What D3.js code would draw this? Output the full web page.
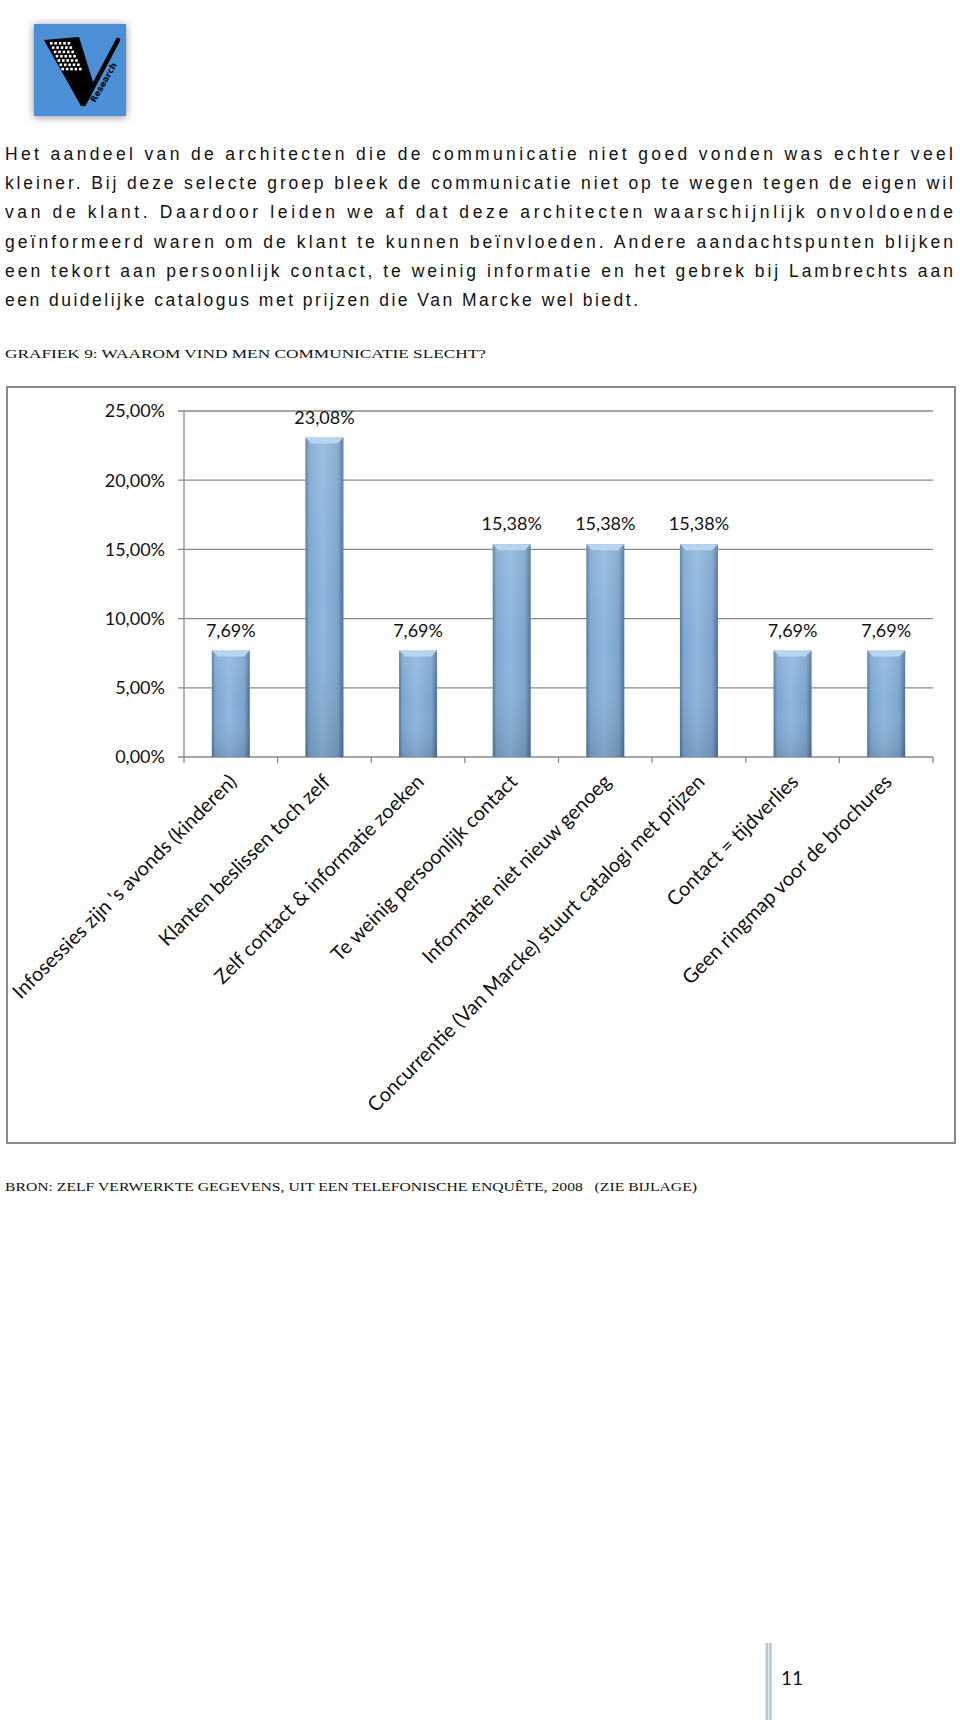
<!DOCTYPE html>
<html>
<head>
<meta charset="utf-8">
<script src="https://cdn.jsdelivr.net/npm/d3@7"></script>
<style>
  html, body { margin: 0; padding: 0; background: #fff; }
  svg { display: block; }
</style>
</head>
<body>
<svg id="page" width="960" height="1720"></svg>
<script>
// ---------- data ----------
const categories = [
  "Infosessies zijn 's avonds (kinderen)",
  "Klanten beslissen toch zelf",
  "Zelf contact & informatie zoeken",
  "Te weinig persoonlijk contact",
  "Informatie niet nieuw genoeg",
  "Concurrentie (Van Marcke) stuurt catalogi met prijzen",
  "Contact = tijdverlies",
  "Geen ringmap voor de brochures"
];
const values = [7.69, 23.08, 7.69, 15.38, 15.38, 15.38, 7.69, 7.69];
const yTicks = [0, 5, 10, 15, 20, 25];
const paragraphLines = [
  "Het aandeel van de architecten die de communicatie niet goed vonden was echter veel",
  "kleiner. Bij deze selecte groep bleek de communicatie niet op te wegen tegen de eigen wil",
  "van de klant. Daardoor leiden we af dat deze architecten waarschijnlijk onvoldoende",
  "geïnformeerd waren om de klant te kunnen beïnvloeden. Andere aandachtspunten blijken",
  "een tekort aan persoonlijk contact, te weinig informatie en het gebrek bij Lambrechts aan",
  "een duidelijke catalogus met prijzen die Van Marcke wel biedt."
];
const captionText = "GRAFIEK 9: WAAROM VIND MEN COMMUNICATIE SLECHT?";
const sourceText = "BRON: ZELF VERWERKTE GEGEVENS, UIT EEN TELEFONISCHE ENQUÊTE, 2008   (ZIE BIJLAGE)";
const pageNumber = "11";

const fmt = v => v.toFixed(2).replace(".", ",") + "%";

const svg = d3.select("#page");
const defs = svg.append("defs");

// ---------- filters / gradients ----------
const sh = defs.append("filter").attr("id", "logoShadow")
  .attr("x", "-30%").attr("y", "-30%").attr("width", "160%").attr("height", "160%");
sh.append("feDropShadow").attr("dx", 0).attr("dy", 1).attr("stdDeviation", 4)
  .attr("flood-color", "#000").attr("flood-opacity", 0.45);

const barGrad = defs.append("linearGradient").attr("id", "barGrad")
  .attr("x1", "0").attr("x2", "1").attr("y1", "0").attr("y2", "0");
[[0, "#52779e"], [0.1, "#7ca6d0"], [0.45, "#8db7de"], [0.85, "#7ba3cb"], [1, "#4b6f95"]]
  .forEach(([o, c]) => barGrad.append("stop").attr("offset", o).attr("stop-color", c));
const barShade = defs.append("linearGradient").attr("id", "barShade")
  .attr("x1", "0").attr("x2", "0").attr("y1", "0").attr("y2", "1");
[[0, "#ffffff", 0.12], [0.5, "#ffffff", 0], [1, "#000000", 0.12]]
  .forEach(([o, c, a]) => barShade.append("stop").attr("offset", o).attr("stop-color", c).attr("stop-opacity", a));

// ---------- logo ----------
const logo = svg.append("g");
logo.append("rect").attr("x", 34).attr("y", 24).attr("width", 92).attr("height", 92)
  .attr("fill", "#4b90d6").attr("filter", "url(#logoShadow)");
logo.append("path").attr("d", "M44,40 L79,37 L93,82 L85,106 L81,106 Z").attr("fill", "#000");
logo.append("line").attr("x1", 84).attr("y1", 104).attr("x2", 118).attr("y2", 40)
  .attr("stroke", "#000").attr("stroke-width", 4.5).attr("stroke-linecap", "round");
for (let r = 0; r < 7; r++) {
  for (let c = 0; c < 5; c++) {
    logo.append("rect").attr("x", 50 + c * 4.4 + r * 1.9).attr("y", 42 + r * 4.3)
      .attr("width", 2.6).attr("height", 2.6).attr("fill", "#fff");
  }
}
logo.append("text").attr("transform", "translate(95,103) rotate(-60)")
  .attr("font-family", "DejaVu Sans").attr("font-weight", "bold").attr("font-size", 8.5)
  .attr("fill", "#000").text("Research");

// ---------- paragraph ----------
const para = svg.append("g").attr("font-family", "Liberation Sans").attr("font-size", 17.5).attr("fill", "#111");
paragraphLines.forEach((line, i) => {
  const t = para.append("text").attr("x", 5).attr("y", 160 + i * 29.2).text(line);
  if (i < paragraphLines.length - 1) t.attr("textLength", 948).attr("lengthAdjust", "spacing");
  else t.attr("textLength", 633).attr("lengthAdjust", "spacing");
});

svg.append("text").attr("x", 5).attr("y", 358).attr("font-family", "Liberation Serif")
  .attr("font-size", 13).attr("fill", "#111").attr("textLength", 481).attr("lengthAdjust", "spacingAndGlyphs")
  .text(captionText);

// ---------- chart box ----------
svg.append("rect").attr("x", 7).attr("y", 387).attr("width", 948).attr("height", 756)
  .attr("fill", "#fff").attr("stroke", "#8a8a8a").attr("stroke-width", 2);

const x = d3.scaleBand().domain(categories).range([184, 933]).paddingInner(0.594).paddingOuter(0.297);
const y = d3.scaleLinear().domain([0, 25]).range([757, 411]);

const chart = svg.append("g");
// gridlines
chart.append("g").selectAll("line").data(yTicks).join("line")
  .attr("x1", 178).attr("x2", 933).attr("y1", d => y(d)).attr("y2", d => y(d))
  .attr("stroke", "#8a8a8a").attr("stroke-width", 1.3);
// y axis line
chart.append("line").attr("x1", 184).attr("x2", 184).attr("y1", y(25)).attr("y2", y(0))
  .attr("stroke", "#8a8a8a").attr("stroke-width", 1.3);
// x ticks at band boundaries
const bounds = d3.range(categories.length + 1).map(i => 184 + i * x.step());
chart.append("g").selectAll("line").data(bounds).join("line")
  .attr("x1", d => d).attr("x2", d => d).attr("y1", y(0)).attr("y2", y(0) + 6)
  .attr("stroke", "#8a8a8a").attr("stroke-width", 1.3);

// y tick labels
chart.append("g").selectAll("text").data(yTicks).join("text")
  .attr("x", 165).attr("y", d => y(d)).attr("dy", "0.35em").attr("text-anchor", "end")
  .attr("font-family", "Lato").attr("font-size", 18).attr("fill", "#111")
  .text(d => fmt(d));

// bars
const bars = chart.append("g").selectAll("g").data(categories).join("g");
bars.append("rect")
  .attr("x", d => x(d)).attr("width", x.bandwidth())
  .attr("y", (d, i) => y(values[i])).attr("height", (d, i) => y(0) - y(values[i]))
  .attr("fill", "url(#barGrad)");
bars.append("rect")
  .attr("x", d => x(d)).attr("width", x.bandwidth())
  .attr("y", (d, i) => y(values[i])).attr("height", (d, i) => y(0) - y(values[i]))
  .attr("fill", "url(#barShade)");
bars.append("path")
  .attr("d", (d, i) => {
    const x0 = x(d), w = x.bandwidth(), y0 = y(values[i]);
    return `M${x0},${y0} L${x0 + w},${y0} L${x0 + w - 6},${y0 + 6} L${x0 + 6},${y0 + 6} Z`;
  })
  .attr("fill", "#b8d4ee");

// data labels
chart.append("g").selectAll("text").data(categories).join("text")
  .attr("x", d => x(d) + x.bandwidth() / 2).attr("y", (d, i) => y(values[i]) - 14)
  .attr("text-anchor", "middle").attr("font-family", "Lato").attr("font-size", 18).attr("fill", "#111")
  .text((d, i) => fmt(values[i]));

// category labels
chart.append("g").selectAll("text").data(categories).join("text")
  .attr("transform", d => `translate(${x(d) + x.bandwidth() / 2 + 7},${y(0) + 26}) rotate(-45)`)
  .attr("text-anchor", "end").attr("font-family", "Lato").attr("font-size", 20).attr("fill", "#111")
  .text(d => d);

// ---------- source ----------
svg.append("text").attr("x", 5).attr("y", 1191).attr("font-family", "Liberation Serif")
  .attr("font-size", 13).attr("fill", "#111").attr("textLength", 692).attr("lengthAdjust", "spacingAndGlyphs")
  .style("white-space", "pre").text(sourceText);

// ---------- page number ----------
svg.append("rect").attr("x", 765).attr("y", 1643).attr("width", 7).attr("height", 77).attr("fill", "#dde6ea");
svg.append("line").attr("x1", 767).attr("x2", 767).attr("y1", 1643).attr("y2", 1720).attr("stroke", "#a9bfcb").attr("stroke-width", 1.5);
svg.append("line").attr("x1", 770.5).attr("x2", 770.5).attr("y1", 1643).attr("y2", 1720).attr("stroke", "#a9bfcb").attr("stroke-width", 1.5);
svg.append("text").attr("x", 781).attr("y", 1685).attr("font-family", "Lato").attr("font-size", 19)
  .attr("fill", "#111").text(pageNumber);
</script>
</body>
</html>
